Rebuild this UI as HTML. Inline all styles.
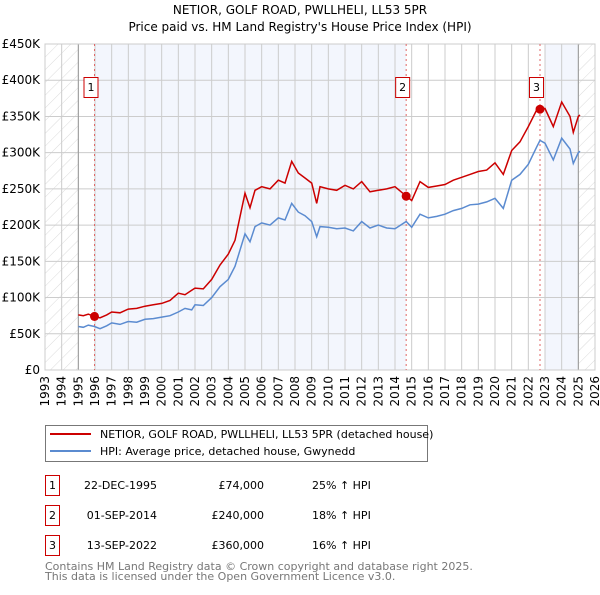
<!DOCTYPE html>
<html><head><meta charset="utf-8"><style>
body{margin:0;background:#fff;}
svg{font-family:"DejaVu Sans","Liberation Sans",sans-serif;}
</style></head><body>
<svg width="600" height="590" viewBox="0 0 600 590">
<defs><pattern id="hatch" width="9" height="9" patternUnits="userSpaceOnUse" patternTransform="rotate(45)"><line x1="0" y1="0" x2="0" y2="9" stroke="#ccc" stroke-width="0.7"/></pattern></defs>
<text x="300" y="14" text-anchor="middle" font-size="12">NETIOR, GOLF ROAD, PWLLHELI, LL53 5PR</text>
<text x="300" y="31" text-anchor="middle" font-size="12">Price paid vs. HM Land Registry's House Price Index (HPI)</text>
<g id="plot"></g>
<g>
<rect x="45.5" y="425.5" width="382" height="36" fill="#fff" stroke="#777"/>
<line x1="50" y1="434" x2="91" y2="434" stroke="#cc0000" stroke-width="2"/>
<text x="100" y="438" font-size="11">NETIOR, GOLF ROAD, PWLLHELI, LL53 5PR (detached house)</text>
<line x1="50" y1="451" x2="91" y2="451" stroke="#5b8bd0" stroke-width="2"/>
<text x="100" y="455" font-size="11">HPI: Average price, detached house, Gwynedd</text>
</g>
<g font-size="11">
<rect x="45.5" y="475.5" width="14" height="20" fill="#fff" stroke="#c00"/><text x="52.5" y="489" text-anchor="middle">1</text>
<text x="157" y="489" text-anchor="end">22-DEC-1995</text><text x="264" y="489" text-anchor="end">£74,000</text><text x="312" y="489">25% ↑ HPI</text>
<rect x="45.5" y="505.5" width="14" height="20" fill="#fff" stroke="#c00"/><text x="52.5" y="519" text-anchor="middle">2</text>
<text x="157" y="519" text-anchor="end">01-SEP-2014</text><text x="264" y="519" text-anchor="end">£240,000</text><text x="312" y="519">18% ↑ HPI</text>
<rect x="45.5" y="535.5" width="14" height="20" fill="#fff" stroke="#c00"/><text x="52.5" y="549" text-anchor="middle">3</text>
<text x="157" y="549" text-anchor="end">13-SEP-2022</text><text x="264" y="549" text-anchor="end">£360,000</text><text x="312" y="549">16% ↑ HPI</text>
</g>
<text x="45" y="570" font-size="11" fill="#777">Contains HM Land Registry data © Crown copyright and database right 2025.</text>
<text x="45" y="580" font-size="11" fill="#777">This data is licensed under the Open Government Licence v3.0.</text>
</svg>
<script>
const hpiYears=[1995,1995.3,1995.6,1995.97,1996.3,1996.7,1997,1997.5,1998,1998.5,1999,1999.5,2000,2000.5,2001,2001.4,2001.8,2002,2002.5,2003,2003.5,2004,2004.4,2005,2005.3,2005.6,2006,2006.5,2007,2007.4,2007.8,2008.2,2008.6,2009,2009.3,2009.5,2010,2010.5,2011,2011.5,2012,2012.5,2013,2013.5,2014,2014.67,2015,2015.5,2016,2016.5,2017,2017.5,2018,2018.5,2019,2019.5,2020,2020.5,2021,2021.5,2022,2022.5,2022.7,2023,2023.5,2024,2024.5,2024.7,2025,2025.1];
const hpiValues=[60,59,62,60,57,61,65,63,67,66,70,71,73,75,80,85,83,90,89,100,115,125,143,188,177,198,203,200,210,207,230,218,213,205,184,198,197,195,196,192,205,196,200,196,195,205,197,215,210,212,215,220,223,228,229,232,237,223,262,270,284,308,317,313,290,320,305,285,300,302];
const priceYears=hpiYears;
const priceValues=[76,75,77,74,72,76,80,79,84,85,88,90,92,96,106,104,110,113,112,125,145,160,179,244,224,248,253,250,262,258,288,272,265,258,230,253,250,248,255,250,260,246,248,250,253,240,234,260,252,254,256,262,266,270,274,276,286,270,303,315,336,359,360,361,336,370,350,328,350,352];
const saleYears=[1995.97,2014.67,2022.7];
const saleValues=[74,240,360];
const yTicks=[0,50,100,150,200,250,300,350,400,450];
const yTickLabels=["£0","£50K","£100K","£150K","£200K","£250K","£300K","£350K","£400K","£450K"];
const xTicks=[1993,1994,1995,1996,1997,1998,1999,2000,2001,2002,2003,2004,2005,2006,2007,2008,2009,2010,2011,2012,2013,2014,2015,2016,2017,2018,2019,2020,2021,2022,2023,2024,2025,2026];

const X0=45,X1=595,Y0=370,Y1=44;
const xs=y=>X0+(y-1993)/(2026-1993)*(X1-X0);
const ys=v=>Y0-v/450*(Y0-Y1);
const NS="http://www.w3.org/2000/svg";
const g=document.getElementById('plot');
function mk(t,a){const e=document.createElementNS(NS,t);for(const k in a)e.setAttribute(k,a[k]);g.appendChild(e);return e;}
let b=mk('rect',{x:xs(1995),y:Y1,width:xs(1995.97)-xs(1995),height:Y0-Y1,fill:'#fff'});


b=mk('rect',{x:xs(1995.97),y:Y1,width:xs(2014.67)-xs(1995.97),height:Y0-Y1,fill:'#f3f6fd'});


b=mk('rect',{x:xs(2023),y:Y1,width:xs(2025)-xs(2023),height:Y0-Y1,fill:'#f3f6fd'});


b=mk('rect',{x:X0,y:Y1,width:xs(1995)-X0,height:Y0-Y1,fill:'url(#hatch)'});


b=mk('rect',{x:xs(2025),y:Y1,width:X1-xs(2025),height:Y0-Y1,fill:'url(#hatch)'});


xTicks.forEach((t,i)=>{
 const l=mk('line',{x1:xs(t),x2:xs(t),y1:Y1,y2:Y0,stroke:'#ccc','stroke-width':1});
 
 
 const x=xs(t)+4;
 const tx=mk('text',{x:x,y:376,'font-size':12,'text-anchor':'end',transform:`rotate(-90 ${x} 376)`});
 tx.textContent=t;
 
 
});
yTicks.forEach((t,i)=>{
 const l=mk('line',{x1:X0,x2:X1,y1:ys(t),y2:ys(t),stroke:'#ccc','stroke-width':1});
 
 
 const tx=mk('text',{x:40,y:ys(t)+4,'font-size':12,'text-anchor':'end'});
 tx.textContent=yTickLabels[i];
 
 
});
let ln=mk('line',{x1:xs(1995),x2:xs(1995),y1:Y1,y2:Y0,stroke:'#999'});


ln=mk('line',{x1:xs(2025),x2:xs(2025),y1:Y1,y2:Y0,stroke:'#999'});


const fr=mk('rect',{x:X0,y:Y1,width:X1-X0,height:Y0-Y1,fill:'none',stroke:'#ccc'});


saleYears.forEach((s,i)=>{
 const l=mk('line',{x1:xs(s),x2:xs(s),y1:Y1,y2:Y0,stroke:'#e06666','stroke-dasharray':'2,3'});
 
 
 const bx=mk('rect',{x:xs(s)-10.5,y:77.5,width:14,height:20,fill:'#fff',stroke:'#c00'});
 
 
 const tx=mk('text',{x:xs(s)-3.5,y:91,'font-size':11,'text-anchor':'middle'});
 tx.textContent=i+1;
 
 
});
const path=(xsA,vs)=>xsA.map((y,i)=>(i?'L':'M')+xs(y).toFixed(1)+','+ys(vs[i]).toFixed(1)).join('');
const hp=mk('path',{d:path(hpiYears,hpiValues),fill:'none',stroke:'#5b8bd0','stroke-width':1.5});


const pp=mk('path',{d:path(priceYears,priceValues),fill:'none',stroke:'#cc0000','stroke-width':1.5});


saleYears.forEach((s,i)=>{
 const c=mk('circle',{cx:xs(s),cy:ys(saleValues[i]),r:4.5,fill:'#cc0000'});
 
 
});
</script>
</body></html>
